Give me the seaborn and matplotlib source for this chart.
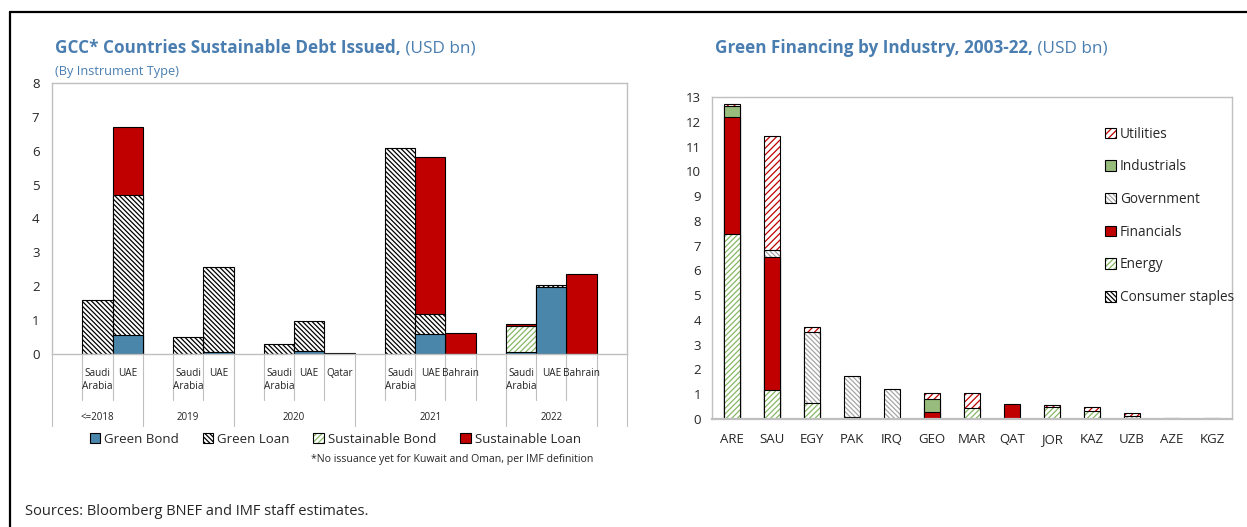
import numpy as np
import matplotlib
matplotlib.use("Agg")
import matplotlib.pyplot as plt
import matplotlib.transforms as mtransforms
from matplotlib.patches import Patch
from matplotlib.lines import Line2D
import seaborn as sns

# ---- left chart: GCC sustainable debt by instrument (USD bn) ----
slot_labels = ["", "Saudi\nArabia", "UAE",
               "", "Saudi\nArabia", "UAE",
               "", "Saudi\nArabia", "UAE", "Qatar",
               "", "Saudi\nArabia", "UAE", "Bahrain", "",
               "Saudi\nArabia", "UAE", "Bahrain", ""]
year_labels = ["<=2018", "2019", "2020", "2021", "2022"]
year_sizes = [3, 3, 4, 5, 3]

green_bond = [0, 0, 0.57, 0, 0, 0.05, 0, 0, 0.08, 0.02, 0, 0, 0.60, 0, 0, 0.05, 1.98, 0, 0]
green_loan = [0, 1.60, 4.12, 0, 0.51, 2.53, 0, 0.30, 0.88, 0, 0, 6.08, 0.58, 0, 0, 0, 0.05, 0, 0]
sust_bond = [0, 0, 0, 0, 0, 0, 0, 0, 0, 0, 0, 0, 0, 0, 0, 0.77, 0, 0, 0]
sust_loan = [0, 0, 2.01, 0, 0, 0, 0, 0, 0, 0, 0, 0, 4.65, 0.62, 0, 0.06, 0, 2.35, 0]

# ---- right chart: green financing by industry, 2003-22 (USD bn) ----
countries = ["ARE", "SAU", "EGY", "PAK", "IRQ", "GEO", "MAR", "QAT", "JOR", "KAZ", "UZB", "AZE", "KGZ"]
consumer_staples = [0, 0, 0, 0, 0, 0, 0, 0, 0, 0, 0, 0.03, 0.03]
energy = [7.48, 1.17, 0.63, 0.07, 0, 0, 0.46, 0, 0.49, 0.34, 0, 0, 0]
financials = [4.72, 5.37, 0, 0, 0, 0.28, 0, 0.61, 0, 0, 0, 0, 0]
government = [0, 0.27, 2.89, 1.65, 1.20, 0, 0, 0, 0, 0, 0.12, 0, 0]
industrials = [0.45, 0, 0, 0, 0, 0.51, 0, 0, 0, 0, 0, 0, 0]
utilities = [0.05, 4.60, 0.21, 0, 0, 0.25, 0.58, 0, 0.06, 0.15, 0.12, 0, 0]

RED = "#C00000"
BLUE = "#4A86AA"
GREEN = "#98BC7C"
HGREEN = "#86B865"
TITLE = "#4A7EB0"
GRAY = "#BFBFBF"

sns.set_style("white")
plt.rcParams["font.family"] = ["Open Sans", "DejaVu Sans"]
plt.rcParams["hatch.linewidth"] = 0.9


def draw_stacked(ax, series, styles, width):
    """stack by drawing cumulative bars from the top layer down"""
    names = list(series)
    idx = np.arange(len(series[names[0]]))
    cum = np.cumsum(np.array([series[n] for n in names], dtype=float), axis=0)
    for k in reversed(range(len(names))):
        vals = np.array(series[names[k]], dtype=float)
        mask = vals > 0
        if not mask.any():
            continue
        face, hatch, hcol = styles[names[k]]
        if hatch:
            sns.barplot(x=idx[mask], y=cum[k][mask], order=idx, color="white",
                        saturation=1, width=width, hatch=hatch, edgecolor=hcol,
                        linewidth=0, errorbar=None, ax=ax)
            sns.barplot(x=idx[mask], y=cum[k][mask], order=idx, color="black",
                        fill=False, width=width, linewidth=0.8, errorbar=None, ax=ax)
        else:
            sns.barplot(x=idx[mask], y=cum[k][mask], order=idx, color=face,
                        saturation=1, width=width, edgecolor="black",
                        linewidth=0.8, errorbar=None, ax=ax)


def legend_handle(face, hatch, hcol):
    if hatch:
        return (Patch(facecolor="white", edgecolor=hcol, hatch=hatch, linewidth=0),
                Patch(facecolor="none", edgecolor="black", linewidth=0.8))
    return Patch(facecolor=face, edgecolor="black", linewidth=0.8)


def style_axes(ax):
    for s in ax.spines.values():
        s.set_color(GRAY)
        s.set_linewidth(1.0)
    ax.set_xlabel("")
    ax.set_ylabel("")


fig = plt.figure(figsize=(12.47, 5.27), dpi=100)
ax1 = fig.add_axes([0.0417, 0.3283, 0.4611, 0.5142])
ax2 = fig.add_axes([0.571, 0.2049, 0.417, 0.611])

# ---------------- left chart ----------------
left_series = {"Green Bond": green_bond, "Green Loan": green_loan,
               "Sustainable Bond": sust_bond, "Sustainable Loan": sust_loan}
left_styles = {"Green Bond": (BLUE, "", None),
               "Green Loan": ("white", "\\" * 7, "black"),
               "Sustainable Bond": ("white", "/" * 6, HGREEN),
               "Sustainable Loan": (RED, "", None)}
draw_stacked(ax1, left_series, left_styles, 1.0)
style_axes(ax1)
ax1.set_xlim(-0.5, len(slot_labels) - 0.5)
ax1.set_ylim(0, 8)
ax1.set_yticks(range(0, 9))
ax1.set_xticks([])
ax1.tick_params(axis="y", direction="in", length=3, color=GRAY, labelsize=9.5, pad=9)

trans = mtransforms.blended_transform_factory(ax1.transData, ax1.transAxes)
for i, lab in enumerate(slot_labels):
    if lab:
        ax1.text(i, -0.05, lab, transform=trans, ha="center", va="top",
                 fontsize=7.2, linespacing=1.35, color="#222222")
bounds = np.cumsum([0] + year_sizes)
for b in range(len(slot_labels) + 1):
    low = -0.265 if (b in bounds or b == len(slot_labels)) else -0.17
    ax1.plot([b - 0.5, b - 0.5], [0, low], transform=trans, color=GRAY,
             lw=0.8, clip_on=False)
for j, yl in enumerate(year_labels):
    ax1.text((bounds[j] + bounds[j + 1]) / 2 - 0.5, -0.235, yl, transform=trans,
             ha="center", va="center", fontsize=7, color="#222222")

h1 = [legend_handle(*left_styles[n]) for n in left_series]
ax1.legend(h1, list(left_series), loc="center", bbox_to_anchor=(0.4925, -0.315),
           ncol=4, frameon=False, fontsize=9.5, handlelength=0.8, handleheight=0.8,
           handletextpad=0.3, columnspacing=1.8, borderaxespad=0)
ax1.text(0.942, -0.39, "*No issuance yet for Kuwait and Oman, per IMF definition",
         transform=ax1.transAxes, ha="right", va="center", fontsize=7.6)

# ---------------- right chart ----------------
right_series = {"Consumer staples": consumer_staples, "Energy": energy,
                "Financials": financials, "Government": government,
                "Industrials": industrials, "Utilities": utilities}
right_styles = {"Consumer staples": ("white", "\\" * 7, "black"),
                "Energy": ("white", "/" * 6, HGREEN),
                "Financials": (RED, "", None),
                "Government": ("white", "\\" * 7, "#A6A6A6"),
                "Industrials": (GREEN, "", None),
                "Utilities": ("white", "/" * 5, RED)}
draw_stacked(ax2, right_series, right_styles, 0.4)
style_axes(ax2)
ax2.spines["bottom"].set_linewidth(1.6)
ax2.set_xlim(-0.5, len(countries) - 0.5)
ax2.set_ylim(0, 13)
ax2.set_yticks(range(0, 14))
ax2.set_xticks(range(len(countries)))
ax2.set_xticklabels(countries)
ax2.set_xticks(np.arange(len(countries) + 1) - 0.5, minor=True)
ax2.tick_params(axis="x", which="major", length=0, labelsize=9.5, pad=10)
ax2.tick_params(axis="x", which="minor", direction="in", length=3, color=GRAY)
ax2.tick_params(axis="y", direction="in", length=3, color=GRAY, labelsize=9.5, pad=8)

names_r = list(right_series)[::-1]
h2 = [legend_handle(*right_styles[n]) for n in names_r]
ax2.legend(h2, names_r, loc="upper left", bbox_to_anchor=(0.745, 0.925),
           frameon=False, fontsize=9.8, handlelength=0.8, handleheight=0.8,
           handletextpad=0.3, labelspacing=1.3, borderaxespad=0)

# ---------------- titles and notes ----------------
t1 = fig.text(0.044, 0.9, "GCC* Countries Sustainable Debt Issued,", fontsize=12.3,
              weight="bold", color=TITLE)
ax1.annotate(" (USD bn)", xy=(1, 0), xycoords=t1, va="bottom", ha="left",
             fontsize=12.3, color=TITLE, annotation_clip=False)
fig.text(0.044, 0.858, "(By Instrument Type)", fontsize=9.2, color=TITLE)
t2 = fig.text(0.573, 0.9, "Green Financing by Industry, 2003-22,", fontsize=12.3,
              weight="bold", color=TITLE)
ax2.annotate(" (USD bn)", xy=(1, 0), xycoords=t2, va="bottom", ha="left",
             fontsize=12.3, color=TITLE, annotation_clip=False)
fig.text(0.02, 0.022, "Sources: Bloomberg BNEF and IMF staff estimates.", fontsize=10.5)

# outer frame (top and left edges of the box)
fig.add_artist(Line2D([10 / 1247, 1], [1 - 12 / 527] * 2, transform=fig.transFigure,
                      color="black", lw=1.6))
fig.add_artist(Line2D([10 / 1247] * 2, [0, 1 - 12 / 527], transform=fig.transFigure,
                      color="black", lw=1.6))

fig.savefig("out.png", dpi=100, facecolor="white")
